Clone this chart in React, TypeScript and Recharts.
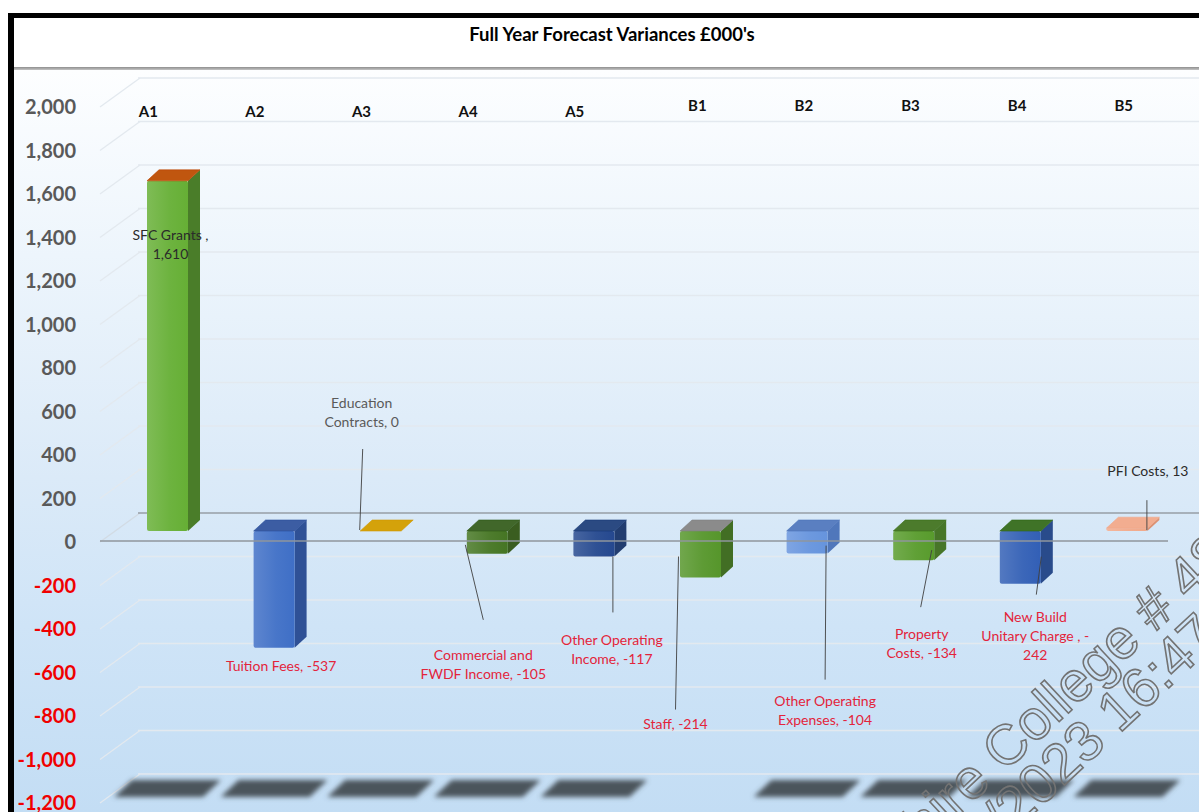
import React from 'react';
import { BarChart, Bar, XAxis, YAxis, CartesianGrid, ReferenceLine } from 'recharts';

const categories = ['A1', 'A2', 'A3', 'A4', 'A5', 'B1', 'B2', 'B3', 'B4', 'B5'];
const lineItems = [
  'SFC Grants ',
  'Tuition Fees',
  'Education Contracts',
  'Commercial and FWDF Income',
  'Other Operating Income',
  'Staff',
  'Other Operating Expenses',
  'Property Costs',
  'New Build Unitary Charge ',
  'PFI Costs',
];
const variances = [1610, -537, 0, -105, -117, -214, -104, -134, -242, 13];
const yTicks = [-1200, -1000, -800, -600, -400, -200, 0, 200, 400, 600, 800, 1000, 1200, 1400, 1600, 1800, 2000];

// text after which each data label wraps
const labelBreaks = [['Grants ,'], [], ['Education'], ['and'], ['Operating'], [], ['Operating'], ['Property'], ['Build', ', -'], []];

// label offset from the bar's front centre / value end, plus optional leader line
const labelPlacement: { dx: number; dy: number; leader?: number[] }[] = [
  { dx: 3, dy: 53 },
  { dx: 7, dy: 17 },
  { dx: -19, dy: -129, leader: [-18, -82, -21, -1] },
  { dx: -4, dy: 100, leader: [-4, 66, -22, -9] },
  { dx: 18, dy: 83, leader: [19, 56, 19, 0] },
  { dx: -25, dy: 145, leader: [-25, 132, -22, -21] },
  { dx: 18, dy: 146, leader: [18, 126, 19, -8] },
  { dx: 8, dy: 73, leader: [7, 47, 18, -10] },
  { dx: 15, dy: 32, leader: [16, 11, 21, -27] },
  { dx: 21, dy: -58, leader: [20, -28, 20, 2] },
];

const barColours = [
  { front: '#6db33f', side: '#4a7d29', top: '#c0560f' },
  { front: '#4876c9', side: '#2f5196', top: '#3c5da3' },
  { front: '#d4a20a', side: '#b88a06', top: '#d4a20a' },
  { front: '#4e7c2d', side: '#3a5d20', top: '#41672a' },
  { front: '#2f5194', side: '#223d70', top: '#2b4a82' },
  { front: '#5e9b35', side: '#426e24', top: '#8b8b8b' },
  { front: '#6d99df', side: '#5077bb', top: '#5a7fc1' },
  { front: '#60a036', side: '#477628', top: '#4c7b2c' },
  { front: '#3c67b9', side: '#294b8b', top: '#3f7327' },
  { front: '#f2ad90', side: '#dc9274', top: '#f2ad90' },
];

const noFloorShadow = ['B1'];

const data = categories.map((category, i) => ({ category, item: lineItems[i], value: variances[i] }));

const W = 1199;
const H = 812;
const AXIS_H = 30;
const MARGIN = { top: 106 - AXIS_H, right: 19, bottom: 10, left: 54 };
const PLOT_TOP = MARGIN.top + AXIS_H;
const PLOT_H = H - PLOT_TOP - MARGIN.bottom;
const ZERO_Y = PLOT_TOP + (PLOT_H * yTicks[yTicks.length - 1]) / (yTicks[yTicks.length - 1] - yTicks[0]);

const DX = 12; // 3d depth offsets
const DY = 11;
const LIFT = 10;
const FONT = 'Lato, "Open Sans", sans-serif';

const fmt = (v: number) => v.toLocaleString('en-US');

function lighten(hex: string, t: number) {
  const n = parseInt(hex.slice(1), 16);
  const ch = [(n >> 16) & 255, (n >> 8) & 255, n & 255].map((c) => Math.round(c + (255 - c) * t));
  return `rgb(${ch.join(',')})`;
}

function wrapLabel(text: string, breaks: string[]) {
  const lines: string[] = [];
  let rest = text;
  breaks.forEach((b) => {
    const k = rest.indexOf(b);
    if (k < 0) return;
    lines.push(rest.slice(0, k + b.length).trim());
    rest = rest.slice(k + b.length).trim();
  });
  lines.push(rest);
  return lines;
}

const Bar3D = (props: any) => {
  const { x, y, width, height, index, payload, background } = props;
  const c = barColours[index];
  const top = Math.min(y, y + height) - LIFT;
  const bottom = Math.max(y, y + height) - LIFT;
  const h = bottom - top;
  const w = width;
  const cx = x + w / 2;
  const value: number = payload.value;
  const end = value >= 0 ? top : bottom;
  const floorY = background ? background.y + background.height - 14 : PLOT_TOP + PLOT_H - 14;
  const place = labelPlacement[index];
  const lines = wrapLabel(`${payload.item}, ${fmt(value)}`, labelBreaks[index]);
  const labelColour = value < 0 ? '#e3243b' : value === 0 ? '#5a5a5a' : '#2b2b2b';
  const gid = `front-${index}`;

  return (
    <g>
      <defs>
        <linearGradient id={gid} x1="0" y1="0" x2="1" y2="0">
          <stop offset="0%" stopColor={lighten(c.front, 0.12)} />
          <stop offset="55%" stopColor={c.front} />
          <stop offset="100%" stopColor={lighten(c.front, -0.05)} />
        </linearGradient>
        <filter id={`blur-${index}`} x="-20%" y="-100%" width="140%" height="300%">
          <feGaussianBlur stdDeviation="2.6" />
        </filter>
      </defs>
      {!noFloorShadow.includes(payload.category) && (
        <polygon
          points={`${x - 33},${floorY + 9} ${x - 15},${floorY - 8} ${x + 74},${floorY - 8} ${x + 56},${floorY + 9}`}
          fill="#4b545c"
          filter={`url(#blur-${index})`}
        />
      )}
      {h > 0.5 && (
        <polygon
          points={`${x + w},${top} ${x + w + DX},${top - DY} ${x + w + DX},${bottom - DY} ${x + w},${bottom}`}
          fill={c.side}
        />
      )}
      {h > 0.5 && <rect x={x} y={top} width={w} height={h} rx={2} fill={`url(#${gid})`} />}
      <polygon
        points={`${x},${top} ${x + DX},${top - DY} ${x + w + DX},${top - DY} ${x + w},${top}`}
        fill={c.top}
        stroke={lighten(c.top, -0.1)}
        strokeWidth={0.6}
        strokeLinejoin="round"
      />
      {place.leader && (
        <line
          x1={cx + place.leader[0]}
          y1={end + place.leader[1]}
          x2={cx + place.leader[2]}
          y2={end + place.leader[3]}
          stroke="#3f3f3f"
          strokeWidth={0.9}
        />
      )}
      <text
        x={cx + place.dx}
        y={end + place.dy}
        textAnchor="middle"
        dominantBaseline="central"
        fontFamily={FONT}
        fontSize={14}
        fill={labelColour}
      >
        {lines.map((ln, i) => (
          <tspan key={i} x={cx + place.dx} dy={i === 0 ? 0 : 19}>
            {ln}
          </tspan>
        ))}
      </text>
    </g>
  );
};

// back-wall gridline with the perspective step on the left
const GridLine = (props: any) => {
  const { x1, x2, y1 } = props;
  const isZero = Math.abs(y1 - ZERO_Y) < 1;
  const back = y1 - 28;
  return (
    <g>
      <path
        d={`M${x1 - 14},${y1 + 1} L${x1 + 26},${back}`}
        stroke={isZero ? '#d2dbe4' : '#e3e9ef'}
        strokeWidth={1.3}
        fill="none"
      />
      <path
        d={`M${x1 + 24},${back} L${x2 + 40},${back}`}
        stroke={isZero ? '#979ea6' : '#e3e9ef'}
        strokeWidth={isZero ? 1.4 : 1.3}
        fill="none"
      />
    </g>
  );
};

const ZeroLine = (props: any) => {
  const { x1, x2, y1 } = props;
  return <line x1={x1 - 14} x2={x2 - 12} y1={y1} y2={y1} stroke="#8f969d" strokeWidth={1.4} />;
};

const ValueTick = (props: any) => {
  const { x, y, payload } = props;
  const v: number = payload.value;
  return (
    <text
      x={x}
      y={y}
      textAnchor="end"
      dominantBaseline="central"
      fontFamily={FONT}
      fontWeight={700}
      fontSize={20}
      fill={v < 0 ? '#f00000' : '#595959'}
    >
      {fmt(v)}
    </text>
  );
};

const CategoryTick = (props: any) => {
  const { x, y, payload } = props;
  const shift = String(payload.value).startsWith('A') ? { dx: -19, dy: -3 } : { dx: -3, dy: -9 };
  return (
    <text x={x + shift.dx} y={y + shift.dy} textAnchor="middle" dominantBaseline="central" fontFamily={FONT} fontWeight={700} fontSize={15} fill="#111">
      {payload.value}
    </text>
  );
};

export default function App() {
  return (
    <div style={{ position: 'absolute', left: 0, top: 0, width: W, height: H, overflow: 'hidden', background: '#ffffff' }}>
      <div
        style={{
          position: 'absolute',
          left: 14,
          top: 70,
          width: W,
          height: H - 70,
          background: 'linear-gradient(#fdfeff 0%, #edf5fc 25%, #dbeaf8 55%, #cfe4f7 75%, #c3ddf4 100%)',
        }}
      />
      <div style={{ position: 'absolute', left: 14, top: 18, width: W, height: 49, background: '#ffffff' }}>
        <span
          style={{
            position: 'absolute',
            left: 612 - 14,
            top: 5,
            transform: 'translateX(-50%)',
            whiteSpace: 'nowrap',
            fontFamily: FONT,
            fontWeight: 700,
            fontSize: 18.5,
            color: '#000',
          }}
        >
          Full Year Forecast Variances £000's
        </span>
      </div>
      <div style={{ position: 'absolute', left: 14, top: 67, width: W, height: 3, background: 'linear-gradient(#8e8e8e, #c4c4c4)' }} />
      <div style={{ position: 'absolute', left: 0, top: 0 }}>
        <BarChart width={W} height={H} data={data} margin={MARGIN} barSize={41}>
          <CartesianGrid vertical={false} horizontal={(p: any) => <GridLine key={p.key} {...p} />} />
          <XAxis
            dataKey="category"
            orientation="top"
            height={AXIS_H}
            axisLine={false}
            tickLine={false}
            tickSize={0}
            tickMargin={-8}
            interval={0}
            tick={<CategoryTick />}
          />
          <YAxis
            type="number"
            domain={[-1200, 2000]}
            ticks={yTicks}
            width={60}
            axisLine={false}
            tickLine={false}
            tickSize={0}
            tickMargin={38}
            interval={0}
            tick={<ValueTick />}
          />
          <Bar dataKey="value" shape={Bar3D} isAnimationActive={false} />
          <ReferenceLine y={0} shape={ZeroLine} />
        </BarChart>
      </div>
      <svg width={W} height={H} style={{ position: 'absolute', left: 0, top: 0, pointerEvents: 'none' }}>
        <g transform="translate(1006,744) rotate(-43)" fontFamily="Liberation Sans, Arial, sans-serif" fontSize={56} fill="none" stroke="#737373" strokeWidth={1.6}>
          <text x={-130} y={20}>hire College # 48</text>
          <text x={-66} y={70}>/2023 16:47:</text>
        </g>
      </svg>
      <div style={{ position: 'absolute', left: 8, top: 13, width: W, height: H, borderLeft: '6px solid #000', borderTop: '5px solid #000' }} />
    </div>
  );
}
